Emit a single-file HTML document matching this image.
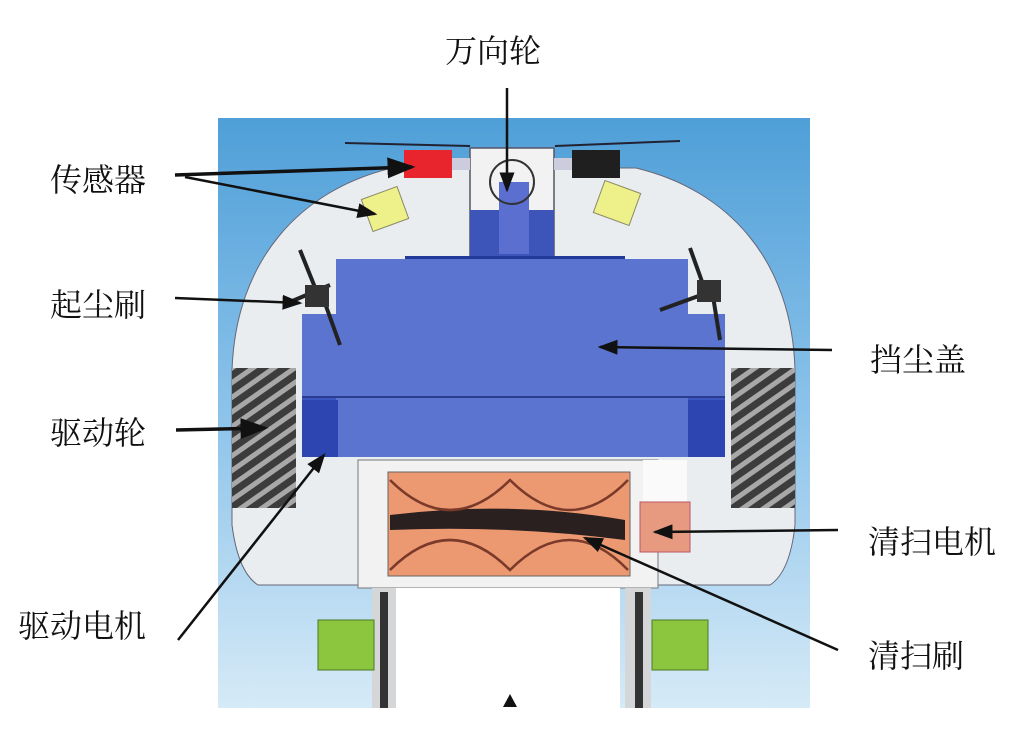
<!DOCTYPE html>
<html><head><meta charset="utf-8"><style>
html,body{margin:0;padding:0;background:#fff;}
svg{display:block}
text{font-family:"Liberation Serif","Noto Serif CJK SC",serif;font-size:32px;fill:#111}
</style></head><body>
<svg width="1033" height="745" viewBox="0 0 1033 745" xmlns="http://www.w3.org/2000/svg">
<defs>
<linearGradient id="bg" x1="0" y1="0" x2="0" y2="1">
<stop offset="0" stop-color="#4f9fd8"/><stop offset="0.5" stop-color="#8cc3ea"/><stop offset="1" stop-color="#d6eaf7"/>
</linearGradient>
<pattern id="tread" width="12" height="12" patternUnits="userSpaceOnUse" patternTransform="rotate(-35)">
<rect width="12" height="12" fill="#3c3c3c"/><rect width="12" height="5" fill="#a8a8a8"/>
</pattern>
<marker id="ah" markerWidth="8" markerHeight="6" refX="7" refY="3" orient="auto" markerUnits="strokeWidth" viewBox="0 0 8 6">
<path d="M0,0 L8,3 L0,6 Z" fill="#111"/></marker>
</defs>
<rect x="218" y="118" width="592" height="590" fill="url(#bg)"/>
<line x1="345" y1="143" x2="470" y2="146" stroke="#223" stroke-width="2"/>
<line x1="555" y1="146" x2="680" y2="141" stroke="#223" stroke-width="2"/>
<path d="M232,370 C236,260 300,190 392,168 L636,168 C728,190 792,260 795,370 L795,525 Q790,572 770,585 L258,585 Q238,572 232,525 Z" fill="#e9edf0" stroke="#667" stroke-width="1"/>
<rect x="232" y="368" width="64" height="140" fill="url(#tread)"/>
<rect x="731" y="368" width="64" height="140" fill="url(#tread)"/>
<rect x="470" y="148" width="84" height="110" fill="#f2f2f2" stroke="#556" stroke-width="1.5"/>
<rect x="470" y="210" width="84" height="48" fill="#3d55b8"/>
<rect x="499" y="182" width="30" height="72" fill="#5a6fcf"/>
<circle cx="512" cy="182" r="22" fill="none" stroke="#333" stroke-width="2"/>
<rect x="404" y="150" width="48" height="28" fill="#e8252d"/>
<rect x="452" y="158" width="18" height="12" fill="#ccd"/>
<rect x="572" y="150" width="48" height="28" fill="#1f1f1f"/>
<rect x="554" y="158" width="18" height="12" fill="#ccd"/>
<rect x="366" y="192" width="38" height="34" fill="#eef08a" stroke="#886" transform="rotate(-20 385 209)"/>
<rect x="598" y="186" width="38" height="34" fill="#eef08a" stroke="#886" transform="rotate(20 617 203)"/>
<rect x="405" y="256" width="220" height="4" fill="#223a9a"/>
<rect x="302" y="314" width="423" height="143" fill="#3e57c0"/>
<rect x="336" y="259" width="352" height="198" fill="#5a74d0"/>
<rect x="302" y="314" width="34" height="83" fill="#5a74d0"/>
<rect x="688" y="314" width="37" height="83" fill="#5a74d0"/>
<line x1="302" y1="397" x2="725" y2="397" stroke="#2a3c90" stroke-width="2"/>
<rect x="302" y="400" width="36" height="57" fill="#2d45b0"/>
<rect x="688" y="400" width="37" height="57" fill="#2d45b0"/>
<g stroke="#222" stroke-width="4"><line x1="300" y1="250" x2="322" y2="305"/><line x1="322" y1="295" x2="340" y2="345"/><line x1="290" y1="302" x2="330" y2="285"/>
<line x1="690" y1="248" x2="705" y2="290"/><line x1="660" y1="310" x2="715" y2="290"/><line x1="712" y1="290" x2="720" y2="340"/></g>
<rect x="305" y="285" width="24" height="22" fill="#333"/>
<rect x="697" y="280" width="24" height="22" fill="#333"/>
<rect x="358" y="460" width="300" height="128" fill="#f2f2f2" stroke="#777"/>
<rect x="388" y="472" width="242" height="104" fill="#ec9870" stroke="#666"/>
<path d="M390,515 Q510,500 625,520 L625,540 Q510,525 390,530 Z" fill="#2a2020"/>
<path d="M390,480 Q450,540 510,480 Q570,540 628,480 M390,570 Q450,510 510,570 Q570,510 628,570" fill="none" stroke="#7a3a2a" stroke-width="2.5"/>
<rect x="643" y="460" width="44" height="42" fill="#fafafa"/>
<rect x="640" y="502" width="50" height="50" fill="#e79a80" stroke="#b56"/>
<rect x="395" y="588" width="225" height="120" fill="#ffffff"/>
<rect x="372" y="588" width="24" height="120" fill="#d4d6d8"/><rect x="380" y="592" width="8" height="116" fill="#333"/>
<rect x="625" y="588" width="26" height="120" fill="#d4d6d8"/><rect x="635" y="592" width="8" height="116" fill="#333"/>
<rect x="318" y="620" width="56" height="50" fill="#8cc63e" stroke="#4a7a20"/>
<rect x="652" y="620" width="56" height="50" fill="#8cc63e" stroke="#4a7a20"/>
<path d="M503,707 L510,694 L517,707 Z" fill="#111"/>
<g stroke="#111" fill="none">
<line x1="175" y1="175" x2="412" y2="167" stroke-width="3.5" marker-end="url(#ah)"/>
<line x1="185" y1="177" x2="375" y2="214" stroke-width="2.5" marker-end="url(#ah)"/>
<line x1="507" y1="88" x2="507" y2="190" stroke-width="2.5" marker-end="url(#ah)"/>
<line x1="175" y1="298" x2="300" y2="303" stroke-width="2.5" marker-end="url(#ah)"/>
<line x1="832" y1="350" x2="600" y2="347" stroke-width="2.5" marker-end="url(#ah)"/>
<line x1="176" y1="430" x2="265" y2="428" stroke-width="3.5" marker-end="url(#ah)"/>
<line x1="178" y1="640" x2="324" y2="455" stroke-width="2.5" marker-end="url(#ah)"/>
<line x1="838" y1="530" x2="655" y2="532" stroke-width="2.5" marker-end="url(#ah)"/>
<line x1="838" y1="650" x2="585" y2="538" stroke-width="2.5" marker-end="url(#ah)"/>
</g>
<text x="445" y="62">万向轮</text>
<text x="50" y="191">传感器</text>
<text x="50" y="316">起尘刷</text>
<text x="50" y="444">驱动轮</text>
<text x="18" y="637">驱动电机</text>
<text x="870" y="371">挡尘盖</text>
<text x="868" y="553">清扫电机</text>
<text x="868" y="667">清扫刷</text>
</svg>
</body></html>
